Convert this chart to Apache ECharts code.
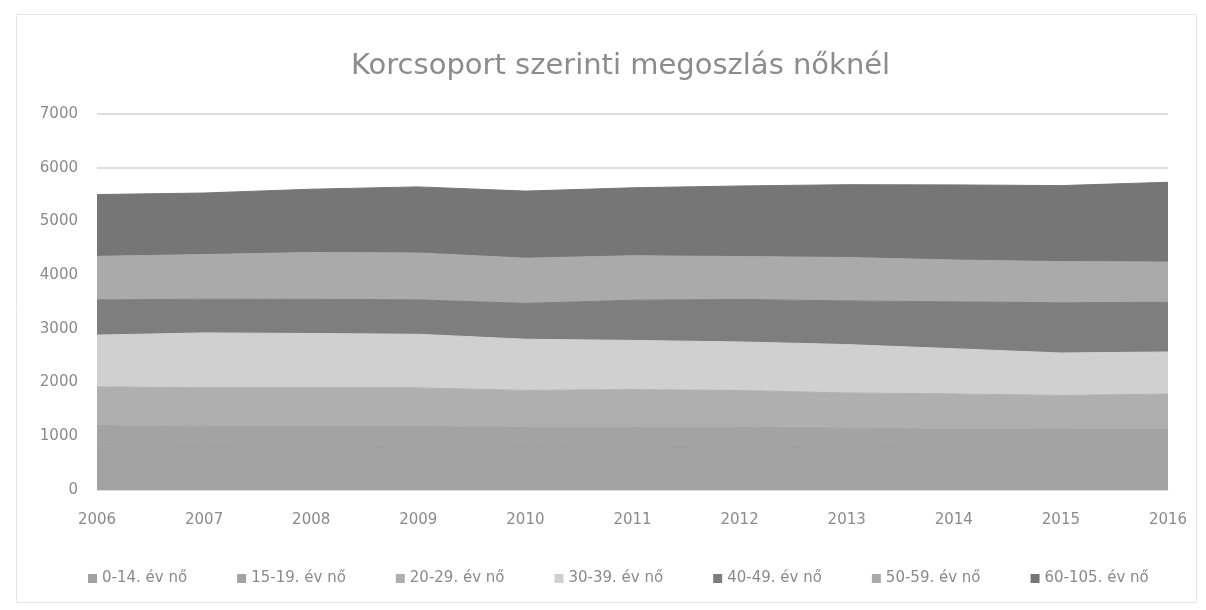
<!DOCTYPE html>
<html>
<head>
<meta charset="utf-8">
<script src="https://cdn.jsdelivr.net/npm/echarts@6/dist/echarts.min.js"></script>
<style>
html,body{margin:0;padding:0;background:#fff;}
#chart{width:1206px;height:610px;}
</style>
</head>
<body>
<div id="chart"></div>
<script>
const years = ['2006','2007','2008','2009','2010','2011','2012','2013','2014','2015','2016'];
const seriesNames = ['0-14. év nő','15-19. év nő','20-29. év nő','30-39. év nő','40-49. év nő','50-59. év nő','60-105. év nő'];
const age0_14   = [880, 870, 865, 860, 850, 855, 860, 855, 845, 850, 850];
const age15_19  = [320, 317, 318, 325, 318, 313, 308, 296, 290, 288, 290];
const age20_29  = [720, 716, 722, 716, 686, 701, 684, 655, 654, 623, 645];
const age30_39  = [964, 1022, 1009, 998, 953, 916, 905, 902, 841, 790, 785];
const age40_49  = [654, 628, 636, 641, 668, 748, 791, 812, 873, 935, 925];
const age50_59  = [812, 830, 872, 873, 841, 828, 798, 809, 779, 766, 748];
const age60_105 = [1150, 1146, 1178, 1230, 1249, 1265, 1314, 1355, 1398, 1415, 1486];
const yTicks = [0, 1000, 2000, 3000, 4000, 5000, 6000, 7000];

const values = [age0_14, age15_19, age20_29, age30_39, age40_49, age50_59, age60_105];
const colors = ['#a2a2a2', '#a3a3a3', '#afafaf', '#d0d0d0', '#7e7e7e', '#aaaaaa', '#767676'];

const chart = echarts.init(document.getElementById('chart'));
chart.setOption({
  backgroundColor: '#ffffff',
  animation: false,
  color: colors,
  title: {
    text: 'Korcsoport szerinti megoszlás nőknél',
    left: 346,
    top: 47,
    textStyle: { fontFamily: 'DejaVu Sans', fontSize: 29, fontWeight: 'normal', color: '#8c8c8c' }
  },
  graphic: [{
    type: 'rect', left: 14, top: 12, shape: { width: 1180, height: 588 },
    style: { fill: 'none', stroke: '#e6e6e6', lineWidth: 1 }, silent: true
  }],
  legend: {
    top: 566,
    left: 83,
    itemWidth: 9,
    itemHeight: 9,
    itemGap: 50,
    icon: 'rect',
    textStyle: { fontFamily: 'DejaVu Sans', fontSize: 15, color: '#8a8a8a' },
    data: seriesNames
  },
  grid: { left: 97, right: 38, top: 114, bottom: 120 },
  xAxis: {
    type: 'category',
    data: years,
    boundaryGap: false,
    axisLine: { show: true, lineStyle: { color: '#dcdcdc' } },
    axisTick: { show: false },
    axisLabel: { fontFamily: 'DejaVu Sans', fontSize: 15, color: '#8a8a8a', margin: 23 }
  },
  yAxis: {
    type: 'value',
    min: yTicks[0],
    max: yTicks[yTicks.length - 1],
    interval: 1000,
    axisLine: { show: false },
    axisTick: { show: false },
    axisLabel: { fontFamily: 'DejaVu Sans', fontSize: 15, color: '#8a8a8a', margin: 19,
                 formatter: v => String(v) },
    splitLine: { show: true, lineStyle: { color: '#dedede', width: 2 } }
  },
  series: seriesNames.map((name, i) => ({
    name: name,
    type: 'line',
    stack: 'total',
    data: values[i],
    symbol: 'none',
    smooth: false,
    lineStyle: { width: 1, color: colors[i] },
    areaStyle: { color: colors[i], opacity: 1 },
    itemStyle: { color: colors[i] }
  }))
});
</script>
</body>
</html>
